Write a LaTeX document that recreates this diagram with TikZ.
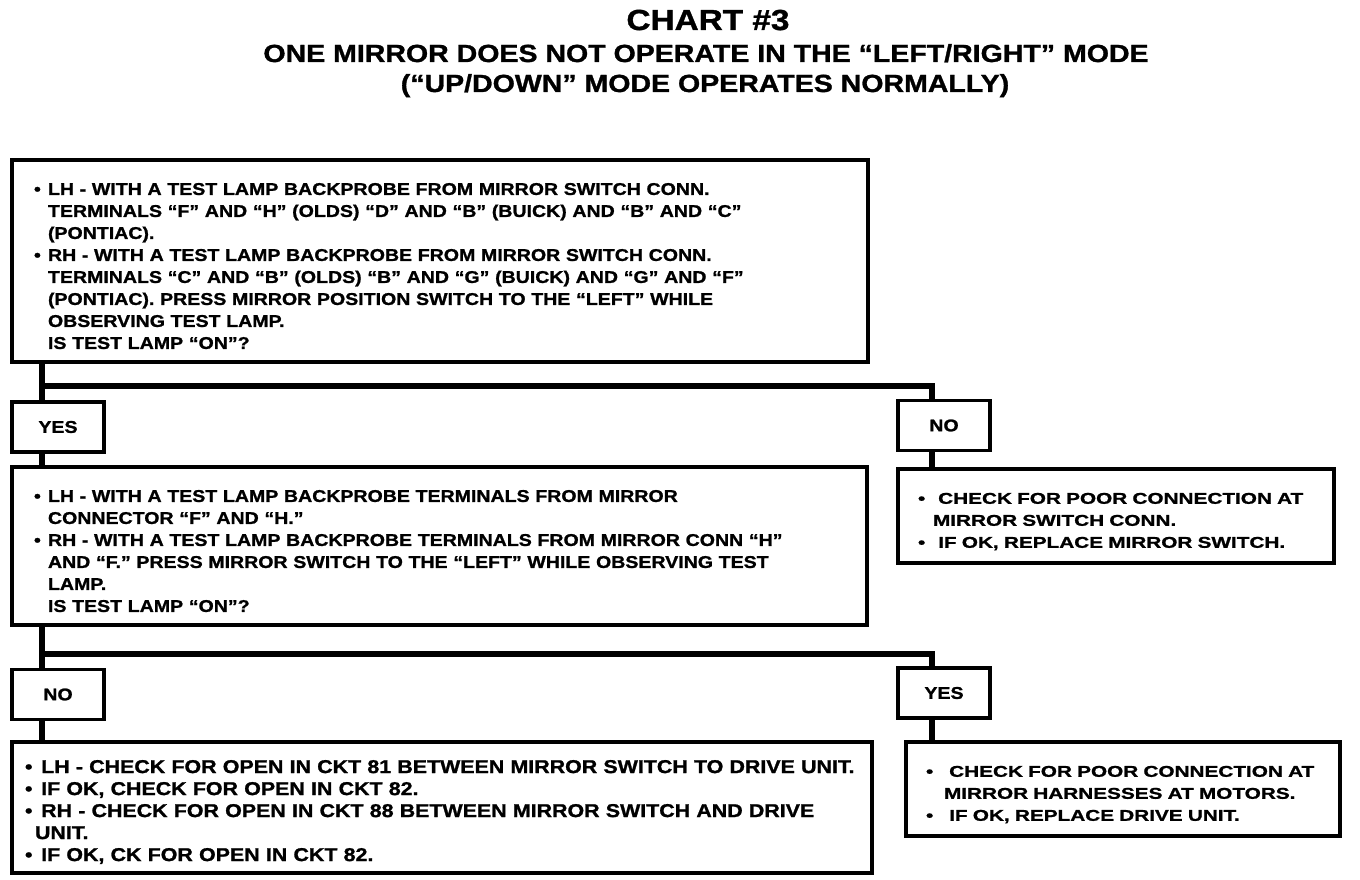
\documentclass[tikz,border=0pt]{standalone}
\usepackage{fontspec}
\setmainfont{Liberation Sans}[FakeStretch=1.15,FakeBold=1.2]
\newfontfamily\widefont{Liberation Sans}[FakeStretch=1.33,FakeBold=1.2]
\usetikzlibrary{positioning}
\newcommand{\chartitem}[1][14pt]{\par\hangindent=#1\hangafter=1\noindent\makebox[#1][l]{\textbullet}}

\begin{document}
\begin{tikzpicture}[x=1pt,y=-1pt,
  chart/.style={draw,line width=3.5pt,align=left,inner ysep=0pt,font=\bfseries\fontsize{17}{22}\selectfont},
  bigchart/.style={chart,font=\bfseries\fontsize{18.6}{22}\selectfont},
  widechart/.style={chart,font=\widefont\bfseries\fontsize{15.6}{22}\selectfont},
  answer/.style={draw,line width=3.5pt,minimum width=92pt,minimum height=50pt,inner sep=0pt,font=\bfseries\fontsize{17}{20}\selectfont},
  heading/.style={anchor=base,font=\bfseries\fontsize{24.8}{30}\selectfont},
  link/.style={line width=6.5pt}]
\useasboundingbox (0,0) rectangle (1360,880);
\node[heading,font=\bfseries\fontsize{29}{34}\selectfont] (chart) at (708,30) {CHART \#3};
\node[heading] (sub1) at (706,62) {ONE MIRROR DOES NOT OPERATE IN THE “LEFT/RIGHT” MODE};
\node[heading] (sub2) at (705,92) {(“UP/DOWN” MODE OPERATES NORMALLY)};
\node[chart,text width=812pt,inner xsep=22pt,minimum height=202pt] (test1) at (440,261) {%
\chartitem LH - WITH A TEST LAMP BACKPROBE FROM MIRROR SWITCH CONN.\newline
TERMINALS “F” AND “H” (OLDS) “D” AND “B” (BUICK) AND “B” AND “C”\newline
(PONTIAC).
\chartitem RH - WITH A TEST LAMP BACKPROBE FROM MIRROR SWITCH CONN.\newline
TERMINALS “C” AND “B” (OLDS) “B” AND “G” (BUICK) AND “G” AND “F”\newline
(PONTIAC). PRESS MIRROR POSITION SWITCH TO THE “LEFT” WHILE\newline
OBSERVING TEST LAMP.\newline
IS TEST LAMP “ON”?\par};
\node[answer] (yes1) at (58,427) {YES};
\node[answer] (no1) at (944,425.5) {NO};
\node[chart,text width=811pt,inner xsep=22pt,minimum height=158pt] (test2) at (439.5,546) {%
\chartitem LH - WITH A TEST LAMP BACKPROBE TERMINALS FROM MIRROR\newline
CONNECTOR “F” AND “H.”
\chartitem RH - WITH A TEST LAMP BACKPROBE TERMINALS FROM MIRROR CONN “H”\newline
AND “F.” PRESS MIRROR SWITCH TO THE “LEFT” WHILE OBSERVING TEST\newline
LAMP.\newline
IS TEST LAMP “ON”?\par};
\node[widechart,text width=396pt,inner xsep=20pt,minimum height=94pt] (fix1) at (1116,516) {%
\chartitem[15pt] CHECK FOR POOR CONNECTION AT\newline
MIRROR SWITCH CONN.
\chartitem[15pt] IF OK, REPLACE MIRROR SWITCH.\par};
\node[answer] (no2) at (58,694.5) {NO};
\node[answer] (yes2) at (944,693) {YES};
\node[bigchart,text width=834pt,inner xsep=13pt,minimum height=131pt] (fix2) at (442,807.5) {%
\chartitem[10pt] LH - CHECK FOR OPEN IN CKT 81 BETWEEN MIRROR SWITCH TO DRIVE UNIT.
\chartitem[10pt] IF OK, CHECK FOR OPEN IN CKT 82.
\chartitem[10pt] RH - CHECK FOR OPEN IN CKT 88 BETWEEN MIRROR SWITCH AND DRIVE\newline
UNIT.
\chartitem[10pt] IF OK, CK FOR OPEN IN CKT 82.\par};
\node[widechart,text width=394pt,inner xsep=20pt,minimum height=94pt] (fix3) at (1123,789) {%
\chartitem[18pt] CHECK FOR POOR CONNECTION AT\newline
MIRROR HARNESSES AT MOTORS.
\chartitem[18pt] IF OK, REPLACE DRIVE UNIT.\par};
\coordinate (lstem) at (42,0);
\coordinate (rstem) at (932,0);
\coordinate (fork1) at (0,386);
\coordinate (fork2) at (0,654);
\draw[link] (test1.south -| lstem) -- (yes1.north -| lstem);
\draw[link] (lstem |- fork1) -- (rstem |- fork1) -- (no1.north -| rstem);
\draw[link] (yes1.south -| lstem) -- (test2.north -| lstem);
\draw[link] (no1.south -| rstem) -- (fix1.north -| rstem);
\draw[link] (test2.south -| lstem) -- (no2.north -| lstem);
\draw[link] (lstem |- fork2) -- (rstem |- fork2) -- (yes2.north -| rstem);
\draw[link] (no2.south -| lstem) -- (fix2.north -| lstem);
\draw[link] (yes2.south -| rstem) -- (fix3.north -| rstem);
\end{tikzpicture}
\end{document}
